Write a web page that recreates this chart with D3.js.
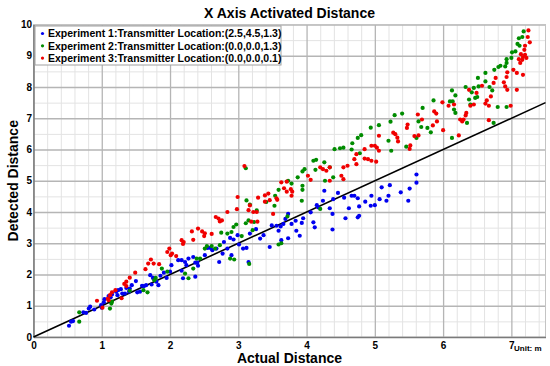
<!DOCTYPE html>
<html>
<head>
<meta charset="utf-8">
<script src="https://cdn.jsdelivr.net/npm/d3@7"></script>
<style>
body { margin: 0; background: #fff; }
svg text { font-family: "Liberation Sans", Arial, sans-serif; font-weight: bold; fill: #000; }
</style>
</head>
<body>
<svg id="drawing_region"></svg>
<script>
const seriesNames = [
    'Experiment 1:Transmitter Location:(2.5,4.5,1.3)',
    'Experiment 2:Transmitter Location:(0.0,0.0,1.3)',
    'Experiment 3:Transmitter Location:(0.0,0.0,0.1)'
];
const seriesColors = ['#0000f0', '#008c00', '#f00000'];
const xTicks = [0, 1, 2, 3, 4, 5, 6, 7];
const yTicks = [0, 1, 2, 3, 4, 5, 6, 7, 8, 9, 10];

// [actual, detected] pairs
const exp1 = [
    [0.52,0.36],[0.55,0.49],[0.58,0.51],[0.73,0.79],[0.77,0.77],[0.81,0.91],[0.83,0.97],[0.89,0.88],[1.00,0.94],[0.99,1.02],
    [1.03,1.11],[1.04,1.21],[1.10,1.31],[1.13,1.27],[1.15,1.36],[1.21,1.45],[1.23,1.34],[1.24,1.50],[1.28,1.53],[1.30,1.39],
    [1.34,1.39],[1.36,1.57],[1.40,1.45],[1.41,1.55],[1.44,1.66],[1.50,1.79],[1.52,1.43],[1.56,1.45],[1.59,1.64],[1.62,1.63],
    [1.65,1.66],[1.71,1.98],[1.73,1.68],[1.75,1.89],[1.80,1.77],[1.83,1.66],[1.86,1.96],[1.91,2.06],[1.95,1.89],
    [2.00,2.09],[2.02,2.30],[2.12,2.46],[2.17,2.46],[2.22,2.40],[2.24,2.30],[2.27,2.51],[2.34,2.56],[2.37,2.38],[2.40,2.38],
    [2.51,2.62],[2.55,2.85],[2.59,2.85],[2.62,2.78],[2.68,2.83],[2.72,2.40],[2.77,2.67],[2.79,3.04],[2.84,2.83],[2.88,3.17],
    [2.90,2.62],[2.93,3.12],[2.99,3.26],[3.01,2.96],[3.07,2.83],[3.12,2.85],[3.15,2.40],[3.17,3.31],[3.26,3.45],[3.32,3.15],
    [3.37,3.26],[3.46,2.88],[3.49,3.57],[2.19,1.88],[2.37,1.93],[2.17,2.12],[2.41,2.28],[3.63,3.10],[3.73,3.16],
    [5.22,4.86],[5.20,4.52],[5.10,4.79],[5.07,4.41],[5.17,4.36],[5.00,4.22],[4.95,4.52],[4.86,4.33],[4.94,4.20],[4.75,4.44],
    [4.70,4.52],[4.66,4.52],[4.77,4.18],[4.62,4.12],[4.57,3.80],[4.77,3.88],[4.75,3.83],[4.46,4.61],[4.39,4.41],[4.26,4.68],
    [4.24,4.36],[4.34,4.12],[4.38,3.94],[4.17,4.15],[4.15,4.22],[4.06,3.99],[3.95,3.80],[3.93,3.65],[3.84,3.72],[3.78,3.62],
    [3.73,3.94],[3.69,3.78],[3.66,3.62],[3.62,3.54],[3.56,3.56],[3.59,3.40],[4.12,3.51],[4.10,3.67],[3.85,3.40],[3.90,3.24],
    [4.38,3.44],[4.55,4.46],[5.61,5.20],[5.61,4.94],[5.51,4.75],[5.49,4.36],[5.38,4.63]
];
const exp2 = [
    [0.67,0.49],[0.67,0.79],[1.12,0.91],[1.14,1.07],[1.15,1.13],[1.41,1.48],[1.61,1.50],[1.67,1.43],[1.77,1.82],[1.79,1.89],
    [1.88,2.19],[1.96,2.09],[2.22,2.03],[2.34,2.19],[2.39,2.51],[2.44,2.51],[2.51,2.83],[2.54,2.91],[2.61,2.91],[2.66,2.83],
    [2.73,2.94],[2.75,3.34],[2.84,3.31],[2.90,3.36],[2.93,3.52],[2.97,3.60],[2.88,2.51],[2.94,2.48],[3.05,3.23],[3.12,4.37],
    [3.17,4.24],[3.15,3.73],[3.23,3.68],[3.41,4.32],[3.59,2.96],[3.63,3.00],[3.11,5.40],[2.27,1.88],[3.16,2.34],[3.21,3.42],
    [3.11,3.64],[3.27,4.05],
    [5.29,7.10],[5.06,6.78],[4.94,6.70],[4.80,6.46],[4.75,6.37],[4.67,6.20],[4.54,6.06],[4.49,6.04],[4.41,6.01],[4.66,6.00],
    [4.78,5.88],[5.20,6.28],[5.24,5.96],[4.14,5.67],[4.10,5.64],[4.26,5.59],[4.34,5.43],[3.97,5.37],[3.94,5.30],[3.87,5.11],
    [4.13,5.35],[4.27,5.00],[4.39,5.11],[3.78,4.91],[3.73,5.00],[3.94,4.84],[3.94,4.71],[3.59,4.71],[3.54,4.52],[3.93,4.36],
    [3.53,4.20],[3.72,3.86],[4.20,4.10],[5.23,6.89],
    [7.18,9.78],[7.16,9.60],[7.11,9.56],[7.09,9.38],[7.12,9.32],[7.06,9.14],[7.01,9.11],[7.00,8.93],[6.93,8.89],[6.93,8.77],
    [6.91,8.66],[6.84,8.68],[6.81,8.64],[6.75,8.55],[6.62,8.45],[6.51,8.29],[6.62,8.18],[6.52,8.02],[6.45,7.97],[6.42,7.83],
    [6.50,7.68],[6.47,7.65],[6.33,8.00],[6.38,7.60],[6.40,7.44],[6.35,6.85],[6.74,6.85],[6.80,7.36],[6.93,7.36],[6.68,8.00],
    [6.72,7.89],[6.18,7.17],[6.16,7.28],[6.14,7.54],[6.18,7.73],[6.10,7.54],[6.13,7.89],[5.86,7.57],[5.70,7.33],[5.64,6.90],
    [5.77,6.69],[5.68,6.72],[5.61,6.37],[5.82,6.55],[6.13,6.37],[5.40,7.15],[5.46,6.09]
];
const exp3 = [
    [0.93,1.16],[1.01,0.94],[1.10,1.18],[1.09,1.23],[1.15,1.43],[1.20,1.50],[1.36,1.77],[1.41,1.90],[1.49,2.06],[1.64,2.17],
    [1.68,2.35],[1.72,2.48],[1.76,2.35],[1.84,2.33],[1.96,2.72],[1.99,2.83],[2.01,2.62],[2.03,2.67],[1.12,1.34],[1.29,1.24],
    [1.36,1.63],[1.33,1.70],
    [2.17,3.10],[2.20,3.04],[2.32,3.38],[2.34,3.11],[2.41,3.47],[2.47,3.38],[2.50,3.23],[2.67,3.84],[2.71,3.79],[2.73,3.70],
    [2.76,3.73],[2.84,4.00],[2.98,4.09],[2.99,4.48],[3.09,5.47],[3.17,4.21],[3.22,4.00],[3.27,4.00],[3.29,4.46],[3.39,4.53],
    [3.44,4.59],[2.09,2.59],[2.19,2.98],[2.51,3.32],[2.61,3.30],[3.15,4.06],[3.19,3.69],[3.28,3.69],[3.39,4.33],[3.46,4.38],
    [5.30,6.49],[5.27,6.54],[5.33,6.38],[5.34,6.26],[5.06,6.44],[4.95,6.12],[5.00,6.12],[5.03,6.06],[5.06,5.96],[4.85,6.01],
    [4.85,5.71],[4.90,5.69],[4.95,5.64],[5.02,5.61],[4.73,5.85],[4.70,5.69],[4.73,5.53],[4.60,5.48],[4.54,5.43],[4.34,5.43],
    [4.29,5.32],[4.20,5.43],[4.24,5.37],[4.34,5.00],[4.51,5.16],[4.54,5.05],[4.06,5.03],[4.02,5.16],[3.71,4.97],[3.63,4.95],
    [3.67,4.76],[3.71,4.65],[3.77,4.73],[3.79,4.65],[3.78,4.52],[3.56,4.44],[3.57,4.39],[3.51,3.94],
    [7.25,9.81],[7.24,9.60],[7.27,9.43],[7.20,9.32],[7.19,9.19],[7.20,9.03],[7.17,8.96],[7.16,8.87],[7.11,8.89],[7.13,8.77],
    [7.03,8.55],[7.08,8.45],[7.17,8.39],[6.94,8.47],[6.93,8.32],[6.89,8.15],[6.91,8.02],[6.94,7.91],[7.08,7.91],[6.77,8.29],
    [6.74,8.13],[6.57,8.04],[6.49,7.81],[6.38,7.91],[6.40,7.40],[6.45,7.44],[6.70,7.70],[6.64,7.57],[6.62,7.47],[6.67,7.40],
    [6.34,7.17],[6.33,7.09],[6.30,6.96],[6.25,6.96],[6.28,6.90],[6.23,6.45],[5.99,7.51],[5.87,7.22],[5.90,7.15],[5.91,6.90],
    [5.85,6.77],[6.00,6.62],[6.08,7.40],[6.16,7.44],[6.67,6.94],[6.99,7.40],[5.63,7.12],[5.69,6.96],[5.47,6.69],[5.48,6.80],
    [5.58,6.43],[5.64,6.45],[5.52,6.13],[5.51,6.02],[7.14,9.05],[7.22,8.93]
];

class ScatterChart {
    constructor(config) {
        this.config = config;
        this.series = [exp1, exp2, exp3];
        this.init();
        this.render();
    }

    init() {
        let self = this;
        const m = self.config.margin;
        self.inner_width = self.config.width - m.left - m.right;
        self.inner_height = self.config.height - m.top - m.bottom;

        self.svg = d3.select(self.config.parent)
            .attr('width', self.config.width)
            .attr('height', self.config.height);

        self.chart = self.svg.append('g')
            .attr('transform', `translate(${m.left}, ${m.top})`);

        self.xscale = d3.scaleLinear().domain([0, 7.5]).range([0, self.inner_width]);
        self.yscale = d3.scaleLinear().domain([0, 10]).range([self.inner_height, 0]);
    }

    render() {
        let self = this;
        const W = self.inner_width, H = self.inner_height;

        // grid: minor first, then major
        const xMinor = d3.range(1, 38).filter(i => i % 5 != 0).map(i => i * 0.2);
        const yMinor = d3.range(0, 10).map(i => i + 0.5);

        const grid = (axis, vals, color, w, vertical) => {
            const g = self.chart.append('g')
                .attr('transform', vertical ? `translate(0, ${H})` : null)
                .call(axis.tickValues(vals).tickSize(vertical ? -H : -W).tickFormat(''));
            g.select('.domain').remove();
            g.selectAll('line').attr('stroke', color).attr('stroke-width', w);
        };
        grid(d3.axisBottom(self.xscale), xMinor, '#e3e3e3', 1, true);
        grid(d3.axisLeft(self.yscale), yMinor, '#e3e3e3', 1, false);
        grid(d3.axisBottom(self.xscale), xTicks.slice(1), '#b5b5b5', 1.3, true);
        grid(d3.axisLeft(self.yscale), yTicks.slice(1), '#b5b5b5', 1.3, false);

        self.chart.append('rect')
            .attr('width', W).attr('height', H)
            .attr('fill', 'none').attr('stroke', '#c4c4c4').attr('stroke-width', 1);

        // axes
        const xaxis = self.chart.append('g')
            .attr('transform', `translate(0, ${H})`)
            .call(d3.axisBottom(self.xscale).tickValues(xTicks).tickSize(0).tickPadding(5).tickSizeOuter(0));
        const yaxis = self.chart.append('g')
            .call(d3.axisLeft(self.yscale).tickValues(yTicks).tickSize(0).tickPadding(2).tickSizeOuter(0));
        [xaxis, yaxis].forEach(a => {
            a.select('.domain').attr('stroke', '#7a7a7a').attr('stroke-width', 1.6);
            a.selectAll('text').attr('font-size', '10px').attr('font-family', null);
        });
        yaxis.selectAll('text').attr('dx', '0.5');

        // reference line y = x
        self.chart.append('line')
            .attr('x1', self.xscale(0)).attr('y1', self.yscale(0))
            .attr('x2', self.xscale(7.5)).attr('y2', self.yscale(7.5))
            .attr('stroke', '#000').attr('stroke-width', 1.6);

        // points
        self.series.forEach((data, i) => {
            self.chart.append('g').selectAll('circle').data(data).enter()
                .append('circle')
                .attr('cx', d => self.xscale(d[0]))
                .attr('cy', d => self.yscale(d[1]))
                .attr('r', 2.1)
                .attr('fill', seriesColors[i]);
        });

        // legend
        const legend = self.chart.append('g').attr('transform', 'translate(1.5, 1.5)');
        legend.append('rect')
            .attr('width', 246).attr('height', 39)
            .attr('fill', '#fff').attr('stroke', '#a0a0a0').attr('stroke-width', 1);
        seriesNames.forEach((name, i) => {
            const row = legend.append('g').attr('transform', `translate(0, ${7.5 + i * 12.3})`);
            row.append('circle').attr('cx', 7.5).attr('r', 1.6).attr('fill', seriesColors[i]);
            row.append('text').attr('x', 13).attr('dy', '0.36em')
                .attr('font-size', '10.5px').text(name);
        });

        // titles
        self.svg.append('text')
            .attr('x', self.config.margin.left + W / 2).attr('y', 17.5)
            .attr('text-anchor', 'middle').attr('font-size', '14px')
            .text('X Axis Activated Distance');
        self.svg.append('text')
            .attr('x', self.config.margin.left + W / 2).attr('y', 363)
            .attr('text-anchor', 'middle').attr('font-size', '14px')
            .text('Actual Distance');
        self.svg.append('text')
            .attr('transform', `translate(18, ${self.config.margin.top + H / 2}) rotate(-90)`)
            .attr('text-anchor', 'middle').attr('font-size', '14px')
            .text('Detected Distance');
        self.svg.append('text')
            .attr('x', 514).attr('y', 351)
            .attr('font-size', '8px')
            .text('Unit: m');
    }
}

new ScatterChart({
    parent: '#drawing_region',
    width: 550,
    height: 366,
    margin: { top: 24.5, right: 4.5, bottom: 29, left: 33.5 }
});
</script>
</body>
</html>
